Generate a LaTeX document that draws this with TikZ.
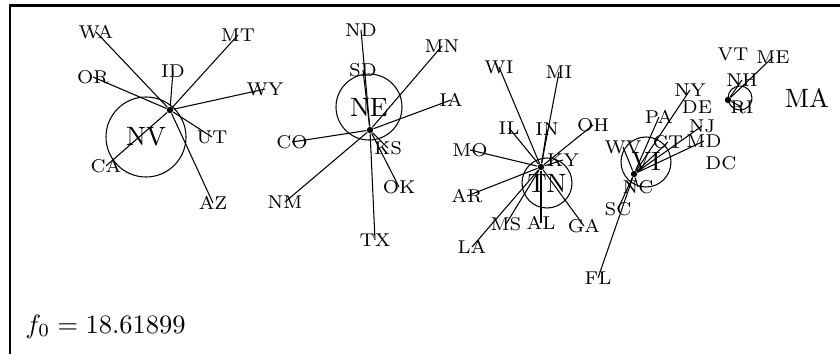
\documentclass[tikz,border=0pt]{standalone}
\begin{document}
\begin{tikzpicture}[x=.3774pt, y=-.3774pt,
	st/.style={font=\scriptsize, inner sep=0pt},
	big/.style={font=\normalsize, inner sep=0pt},
	hub/.style={circle, fill=black, inner sep=0pt, minimum size=2.4pt}]
	\useasboundingbox (0,0) rectangle (840,354);
	\draw[line width=1.1pt] (10,354) -- (10,5.5) -- (840,5.5);
	% NV group
	\node[big] (NV)  at (146,137) {NV};
	\draw (NV.center) circle (40);
	\node[hub] (hNV) at (170,110) {};
	\node[st]  (WA)  at (96,32)   {WA};
	\node[st]  (MT)  at (238,35)  {MT};
	\node[st]  (ID)  at (173,71)  {ID};
	\node[st]  (OR)  at (93,77)   {OR};
	\node[st]  (WY)  at (265,89)  {WY};
	\node[st]  (UT)  at (212,137) {UT};
	\node[st]  (CA)  at (106,166) {CA};
	\node[st]  (AZ)  at (213,203) {AZ};
	\draw (hNV) -- (WA.center);
	\draw (hNV) -- (MT.center);
	\draw (hNV) -- (ID.center);
	\draw (hNV) -- (OR.center);
	\draw (hNV) -- (WY.center);
	\draw (hNV) -- (UT.center);
	\draw (hNV) -- (CA.center);
	\draw (hNV) -- (AZ.center);
	% NE group
	\node[big] (NE)  at (369,107) {NE};
	\draw (NE.center) circle (33);
	\node[hub] (hNE) at (370,130) {};
	\node[st]  (ND)  at (361,30)  {ND};
	\node[st]  (SD)  at (363,70)  {SD};
	\node[st]  (MN)  at (442,46)  {MN};
	\node[st]  (IA)  at (451,100) {IA};
	\node[st]  (CO)  at (292,142) {CO};
	\node[st]  (KS)  at (388,148) {KS};
	\node[st]  (OK)  at (399,187) {OK};
	\node[st]  (NM)  at (285,202) {NM};
	\node[st]  (TX)  at (375,240) {TX};
	\draw (hNE) -- (ND.center);
	\draw (hNE) -- (SD.center);
	\draw (hNE) -- (MN.center);
	\draw (hNE) -- (IA.center);
	\draw (hNE) -- (CO.center);
	\draw (hNE) -- (KS.center);
	\draw (hNE) -- (OK.center);
	\draw (hNE) -- (NM.center);
	\draw (hNE) -- (TX.center);
	% TN group
	\node[big] (TN)  at (547,183) {TN};
	\draw (TN.center) circle (25);
	\node[hub] (hTN) at (541,167) {};
	\node[st]  (WI)  at (499,67)  {WI};
	\node[st]  (MI)  at (559,72)  {MI};
	\node[st]  (IL)  at (509,128) {IL};
	\node[st]  (IN)  at (547,129) {IN};
	\node[st]  (OH)  at (593,125) {OH};
	\node[st]  (MO)  at (470,150) {MO};
	\node[st]  (KY)  at (563,160) {KY};
	\node[st]  (AR)  at (467,196) {AR};
	\node[st]  (MS)  at (506,224) {MS};
	\node[st]  (AL)  at (541,223) {AL};
	\node[st]  (GA)  at (584,226) {GA};
	\node[st]  (LA)  at (472,247) {LA};
	\draw (hTN) -- (WI.center);
	\draw (hTN) -- (MI.center);
	\draw (hTN) -- (IL.center);
	\draw (hTN) -- (IN.center);
	\draw (hTN) -- (OH.center);
	\draw (hTN) -- (MO.center);
	\draw (hTN) -- (KY.center);
	\draw (hTN) -- (AR.center);
	\draw (hTN) -- (MS.center);
	\draw (hTN) -- (AL.center);
	\draw (hTN) -- (GA.center);
	\draw (hTN) -- (LA.center);
	% VI group
	\node[big] (VI)  at (646,162) {VI};
	\draw (VI.center) circle (25);
	\node[hub] (hVI) at (634,174) {};
	\node[st]  (NY)  at (690,90)  {NY};
	\node[st]  (PA)  at (659,117) {PA};
	\node[st]  (DE)  at (697,107) {DE};
	\node[st]  (NJ)  at (702,126) {NJ};
	\node[st]  (CT)  at (668,142) {CT};
	\node[st]  (MD)  at (704,141) {MD};
	\node[st]  (WV)  at (623,147) {WV};
	\node[st]  (DC)  at (721,163) {DC};
	\node[st]  (NC)  at (638,187) {NC};
	\node[st]  (SC)  at (618,209) {SC};
	\node[st]  (FL)  at (598,278) {FL};
	\draw (hVI) -- (NY.center);
	\draw (hVI) -- (PA.center);
	\draw (hVI) -- (NJ.center);
	\draw (hVI) -- (CT.center);
	\draw (hVI) -- (MD.center);
	\draw (hVI) -- (WV.center);
	\draw (hVI) -- (NC.center);
	\draw (hVI) -- (SC.center);
	\draw (hVI) -- (FL.center);
	% RI group
	\node[big] (MA)  at (807,98)  {MA};
	\draw (740,98) circle (12);
	\node[hub] (hRI) at (728,100) {};
	\node[st]  (VT)  at (733,54)  {VT};
	\node[st]  (ME)  at (773,57)  {ME};
	\node[st]  (NH)  at (742,80)  {NH};
	\node[st]  (RI)  at (742,107) {RI};
	\draw (hRI) -- (ME.center);
	\draw (hRI) -- (NH.center);
	\draw (hRI) -- (RI.center);
	\node[anchor=base west] (f0) at (16,333) {$f_0 = 18.61899$};
\end{tikzpicture}
\end{document}
